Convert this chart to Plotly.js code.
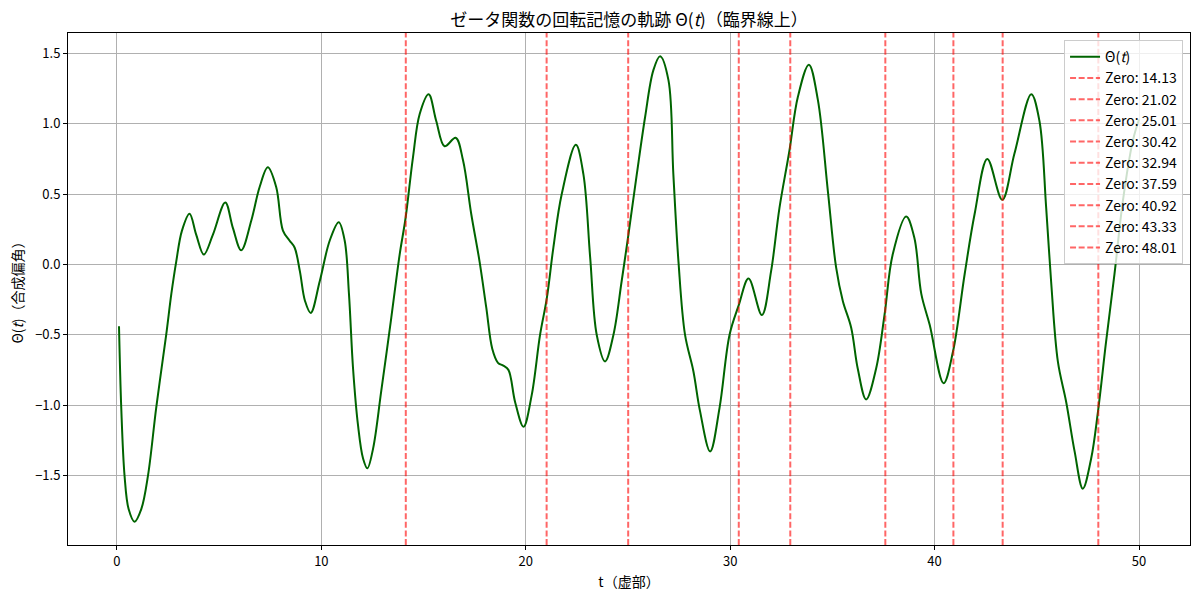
<!DOCTYPE html>
<html>
<head>
<meta charset="utf-8">
<script src="https://cdn.plot.ly/plotly-3.0.1.min.js"></script>
<style>
  html, body { margin: 0; padding: 0; background: #fff; }
  #chart { width: 1200px; height: 595px; }
</style>
</head>
<body>
<div id="chart"></div>
<script>
// t (imaginary part) samples
const tValues = [
  0.1, 0.21, 0.37, 0.57, 0.86, 1.19, 1.52, 1.92, 2.41, 2.66, 2.90, 3.18, 3.55, 3.88, 4.25, 4.69,
  5.30, 5.67, 6.08, 6.57, 6.98, 7.38, 7.79, 8.12, 8.44, 8.69, 8.95, 9.2, 9.48, 9.92, 10.41, 10.85,
  11.14, 11.35, 11.55, 11.79, 12.04, 12.25, 12.53, 12.93, 13.42, 13.83, 14.12, 14.48, 14.81, 15.25,
  15.62, 16.03, 16.57, 16.93, 17.33, 17.74, 18.07, 18.36, 18.64, 18.9, 19.15, 19.48, 19.89, 20.29,
  20.70, 21.03, 21.35, 21.76, 22.45, 22.82, 23.15, 23.47, 23.88, 24.29, 24.69, 25.02, 25.43, 25.84,
  26.24, 26.57, 26.98, 27.22, 27.47, 27.79, 28.2, 28.52, 29.02, 29.48, 29.97, 30.42, 30.9, 31.55,
  32.0, 32.41, 32.9, 33.31, 33.85, 34.29, 34.78, 35.18, 35.51, 35.92, 36.24, 36.65, 37.14, 37.55,
  37.95, 38.61, 39.01, 39.35, 39.76, 40.44, 40.9, 41.47, 41.96, 42.58, 43.31, 43.91, 44.73, 45.13,
  45.46, 45.7, 46.03, 46.44, 46.85, 47.25, 47.66, 47.99, 48.39, 48.8, 49.21, 49.7, 50.0
];
// Θ(t) values (composite argument)
const thetaValues = [
  -0.44, -1.02, -1.50, -1.74, -1.83, -1.74, -1.50, -1.02, -0.50, -0.21, 0.02, 0.24, 0.36, 0.21, 0.07, 0.21,
  0.44, 0.26, 0.10, 0.31, 0.55, 0.69, 0.55, 0.24, 0.17, 0.12, -0.05, -0.26, -0.345, -0.12, 0.17, 0.30,
  0.17, -0.21, -0.74, -1.14, -1.38, -1.45, -1.31, -0.90, -0.38, 0.07, 0.33, 0.76, 1.07, 1.21,
  1.02, 0.84, 0.90, 0.74, 0.36, 0.02, -0.31, -0.60, -0.70, -0.72, -0.75, -0.98, -1.155, -0.93,
  -0.50, -0.24, 0.12, 0.50, 0.85, 0.64, 0.05, -0.50, -0.69, -0.50, -0.12, 0.21, 0.64, 1.05,
  1.38, 1.48, 1.31, 0.64, 0.02, -0.50, -0.76, -1.04, -1.33, -1.02, -0.50, -0.29, -0.10, -0.36,
  -0.05, 0.40, 0.81, 1.19, 1.42, 1.17, 0.52, -0.02, -0.26, -0.45, -0.74, -0.96, -0.74, -0.36,
  0.07, 0.34, 0.19, -0.21, -0.43, -0.845, -0.62, -0.07, 0.36, 0.75, 0.46, 0.79, 1.21, 1.02,
  0.40, -0.12, -0.69, -0.98, -1.33, -1.595, -1.38, -1.05, -0.55, -0.07, 0.45, 0.88, 1.03
];
// Nontrivial zeta zeros (imaginary parts)
const zeroValues = [14.13, 21.02, 25.01, 30.42, 32.94, 37.59, 40.92, 43.33, 48.01];
const xTickVals = [0, 10, 20, 30, 40, 50];
const yTickVals = [-1.5, -1.0, -0.5, 0.0, 0.5, 1.0, 1.5];

// matplotlib-like 5% margins
function padRange(arr) {
  const mn = Math.min(...arr), mx = Math.max(...arr);
  const p = (mx - mn) * 0.05;
  return [mn - p, mx + p];
}
const xRange = padRange(tValues);
const yRange = padRange(thetaValues);

const FONT = '"Noto Sans CJK JP", "Noto Sans", sans-serif';

const traces = [{
  x: tValues, y: thetaValues,
  type: 'scatter', mode: 'lines',
  name: 'Θ(<i>t</i>)',
  line: { color: '#006400', width: 2, shape: 'spline', smoothing: 1 }
}];
zeroValues.forEach(z => {
  traces.push({
    x: [z, z], y: yRange,
    type: 'scatter', mode: 'lines',
    name: 'Zero: ' + z.toFixed(2),
    line: { color: 'rgba(255,0,0,0.6)', width: 2, dash: '6px,2.6px' },
    hoverinfo: 'skip'
  });
});

const axisCommon = {
  showline: true, mirror: true, linecolor: '#000', linewidth: 1,
  ticks: 'outside', ticklen: 4, tickwidth: 1, tickcolor: '#000',
  showgrid: true, gridcolor: '#b0b0b0', gridwidth: 1,
  zeroline: false,
  tickfont: { family: FONT, size: 13, color: '#000' }
};

const layout = {
  width: 1200, height: 595,
  paper_bgcolor: '#fff', plot_bgcolor: '#fff',
  margin: { l: 68, r: 10, t: 33, b: 50 },
  font: { family: FONT, color: '#000' },
  title: {
    text: 'ゼータ関数の回転記憶の軌跡 Θ(<i>t</i>)（臨界線上）',
    font: { family: FONT, size: 17, color: '#000' },
    x: 0.5242, xanchor: 'center', y: 0.966, yanchor: 'middle'
  },
  xaxis: Object.assign({}, axisCommon, {
    range: xRange, tickvals: xTickVals,
    title: { text: 't（虚部）', font: { family: FONT, size: 14 }, standoff: 8 }
  }),
  yaxis: Object.assign({}, axisCommon, {
    range: yRange, tickvals: yTickVals, tickformat: '.1f',
    title: { text: 'Θ(<i>t</i>)（合成偏角）', font: { family: FONT, size: 14 }, standoff: 8 }
  }),
  legend: {
    x: 0.9938, xanchor: 'right', y: 0.986, yanchor: 'top',
    bgcolor: 'rgba(255,255,255,0.8)', bordercolor: '#cccccc', borderwidth: 1,
    font: { family: FONT, size: 14, color: '#000' },
    tracegroupgap: 0
  },
  showlegend: true
};

Plotly.newPlot('chart', traces, layout, { staticPlot: true, displayModeBar: false });
</script>
</body>
</html>
